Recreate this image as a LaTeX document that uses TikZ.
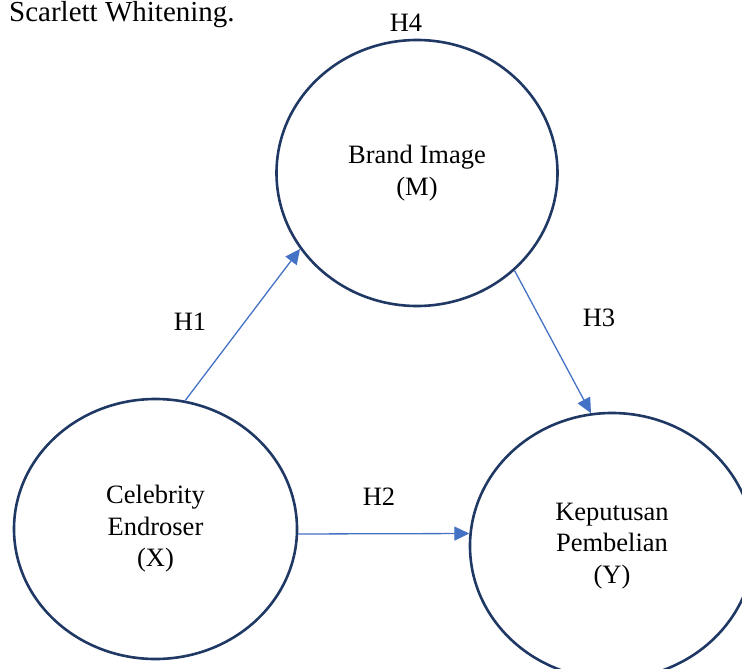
\documentclass[tikz,border=0pt]{standalone}
\usepackage{fontspec}
\setmainfont{Liberation Serif}
\usetikzlibrary{shapes.geometric,arrows.meta}
\definecolor{navy}{HTML}{1F3864}
\definecolor{arrowblue}{HTML}{4472C4}
\tikzset{
  var/.style={ellipse, draw=navy, line width=2.6pt, inner sep=0pt, align=center,
    font=\fontsize{26.5}{31.5}\selectfont},
  link/.style={draw=arrowblue, line width=1.3pt, -{Triangle[length=15pt,width=14pt]}},
  hlabel/.style={font=\fontsize{26.5}{31.5}\selectfont}
}
\begin{document}
\begin{tikzpicture}[x=1pt,y=-1pt]
\useasboundingbox (0,0) rectangle (742,669);
\clip (0,0) rectangle (742,669);
\node[var, minimum width=281pt, minimum height=266pt] (M) at (417,173) {Brand Image\\(M)};
\node[var, minimum width=283pt, minimum height=260pt] (X) at (155.5,529) {Celebrity\\Endroser\\(X)};
\node[var, minimum width=284pt, minimum height=266pt] (Y) at (612,546) {Keputusan\\Pembelian\\(Y)};
\draw[link] (X.77) -- (M.213.5);
\draw[link] (M.315.3) -- (Y.99.6);
\draw[link] (X.-2) -- (Y.175.2);
\node[hlabel] (h4) at (406,23) {H4};
\node[hlabel] (h1) at (190,322) {H1};
\node[hlabel] (h2) at (379,497) {H2};
\node[hlabel] (h3) at (599,318) {H3};
\node[font=\fontsize{29}{34}\selectfont, anchor=base west, inner sep=0pt] (title) at (9,22) {Scarlett Whitening.};
\end{tikzpicture}
\end{document}
